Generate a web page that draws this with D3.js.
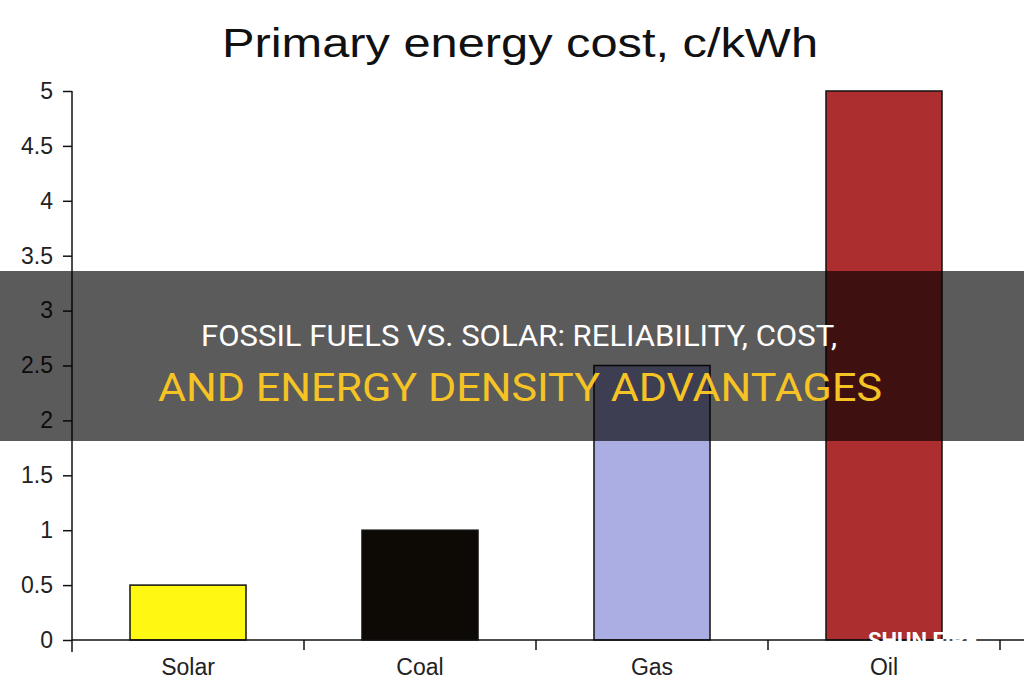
<!DOCTYPE html>
<html>
<head>
<meta charset="utf-8">
<script src="https://cdn.jsdelivr.net/npm/d3@7"></script>
<style>
  html, body { margin: 0; padding: 0; background: #fff; }
  svg { display: block; }
</style>
</head>
<body>
<div id="chart"></div>
<script>
// data
const categories = ["Solar", "Coal", "Gas", "Oil"];
const costs = [0.5, 1, 2.5, 5];
const barColors = ["#fff812", "#0d0905", "#aaaee2", "#ad2e2e"];
const yTicks = [0, 0.5, 1, 1.5, 2, 2.5, 3, 3.5, 4, 4.5, 5];

const width = 1024, height = 680;

const svg = d3.select("#chart")
    .append("svg")
    .attr("width", width)
    .attr("height", height);

// scales
const x = d3.scaleBand()
    .domain(categories)
    .range([72, 1000])
    .paddingInner(0.5)
    .paddingOuter(0.25);

const y = d3.scaleLinear()
    .domain([0, 5])
    .range([640, 91]);

// title
svg.append("text")
    .attr("x", 520)
    .attr("y", 57)
    .attr("text-anchor", "middle")
    .attr("font-family", "Liberation Sans, Arial, sans-serif")
    .attr("font-size", 41)
    .attr("fill", "#111")
    .attr("textLength", 596)
    .attr("lengthAdjust", "spacingAndGlyphs")
    .text("Primary energy cost, c/kWh");

// bars
svg.selectAll("rect.bar")
    .data(categories)
    .enter()
    .append("rect")
    .attr("class", "bar")
    .attr("x", d => x(d))
    .attr("width", x.bandwidth())
    .attr("y", (d, i) => y(costs[i]))
    .attr("height", (d, i) => y(0) - y(costs[i]))
    .attr("fill", (d, i) => barColors[i])
    .attr("stroke", "#111")
    .attr("stroke-width", 1.5);

// y axis
const yAxis = svg.append("g")
    .attr("transform", "translate(72,0)")
    .call(d3.axisLeft(y).tickValues(yTicks).tickSize(9).tickPadding(10)
        .tickFormat(d3.format("~g")));
yAxis.select(".domain").remove();
yAxis.selectAll("line").attr("stroke", "#111").attr("stroke-width", 1.5);
yAxis.selectAll("text")
    .attr("font-family", "Liberation Sans, Arial, sans-serif")
    .attr("font-size", 23)
    .attr("fill", "#222");

svg.append("line")
    .attr("x1", 72).attr("x2", 72)
    .attr("y1", y(5)).attr("y2", 652)
    .attr("stroke", "#111").attr("stroke-width", 1.5);

// x axis: baseline plus ticks between categories
const bandStep = x.step();
const boundaries = categories.map((d, i) => 72 + (i + 1) * bandStep);

svg.append("line")
    .attr("x1", 72).attr("x2", 1024)
    .attr("y1", y(0)).attr("y2", y(0))
    .attr("stroke", "#111").attr("stroke-width", 1.5);

svg.selectAll("line.sep")
    .data(boundaries)
    .enter()
    .append("line")
    .attr("class", "sep")
    .attr("x1", d => d).attr("x2", d => d)
    .attr("y1", y(0)).attr("y2", 650)
    .attr("stroke", "#111").attr("stroke-width", 1.5);

svg.selectAll("text.cat")
    .data(categories)
    .enter()
    .append("text")
    .attr("class", "cat")
    .attr("x", d => x(d) + x.bandwidth() / 2)
    .attr("y", 675)
    .attr("text-anchor", "middle")
    .attr("font-family", "Liberation Sans, Arial, sans-serif")
    .attr("font-size", 23)
    .attr("fill", "#222")
    .text(d => d);

// dark banner with headline
svg.append("rect")
    .attr("x", 0).attr("y", 271)
    .attr("width", width).attr("height", 170)
    .attr("fill", "#000")
    .attr("fill-opacity", 0.645);

svg.append("text")
    .attr("x", 519)
    .attr("y", 346)
    .attr("text-anchor", "middle")
    .attr("font-family", "Roboto, sans-serif")
    .attr("font-size", 30)
    .attr("fill", "#fff")
    .attr("textLength", 636)
    .attr("lengthAdjust", "spacingAndGlyphs")
    .text("FOSSIL FUELS VS. SOLAR: RELIABILITY, COST,");

svg.append("text")
    .attr("x", 520)
    .attr("y", 401)
    .attr("text-anchor", "middle")
    .attr("font-family", "Roboto, sans-serif")
    .attr("font-size", 38)
    .attr("fill", "#f6c325")
    .attr("textLength", 724)
    .attr("lengthAdjust", "spacingAndGlyphs")
    .text("AND ENERGY DENSITY ADVANTAGES");

// watermark
svg.append("text")
    .attr("x", 868)
    .attr("y", 648)
    .attr("font-family", "Roboto, sans-serif")
    .attr("font-weight", "bold")
    .attr("font-size", 22)
    .attr("fill", "#fff")
    .text("SHUN FIRE");
</script>
</body>
</html>
